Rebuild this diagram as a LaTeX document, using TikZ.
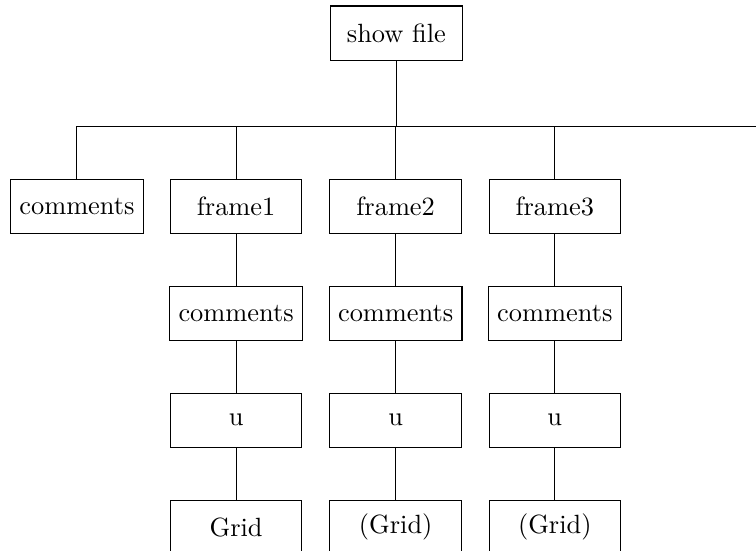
\documentclass[tikz,border=0pt]{standalone}
\usetikzlibrary{positioning}
\tikzset{
  item/.style={
    draw, minimum width=1.75cm, minimum height=0.72cm, align=center
  },
  link/.style={draw=black, line width=0.4pt}
}
\begin{document}
\begin{tikzpicture}[node distance=0.69cm]
    \useasboundingbox (0,0) rectangle (10.07,-7.33);
    \clip (0,0) rectangle (10.07,-7.33);
    % root and the bar
    \node[item] (show) at (5.28,-0.44) {show file};
    \coordinate (bar) at (5.28,-1.69);
    \coordinate (barend) at (10.3,-1.69);
    % first level
    \node[item] (comments) at (1.025,-2.75) {comments};
    \node[item] (frame1) at (3.145,-2.75) {frame1};
    \node[item] (frame2) at (5.27,-2.75) {frame2};
    \node[item] (frame3) at (7.39,-2.75) {frame3};
    % under each frame
    \node[item,below=of frame1] (com1) {comments};
    \node[item,below=of com1] (u1) {u};
    \node[item,below=of u1] (grid1) {Grid};
    \node[item,below=of frame2] (com2) {comments};
    \node[item,below=of com2] (u2) {u};
    \node[item,below=of u2] (grid2) {(Grid)};
    \node[item,below=of frame3] (com3) {comments};
    \node[item,below=of com3] (u3) {u};
    \node[item,below=of u3] (grid3) {(Grid)};
    \draw[link] (show)--(bar)--(barend);
    \draw[link] (comments)|-(bar);
    \draw[link] (frame1)|-(bar);
    \draw[link] (frame2)|-(bar);
    \draw[link] (frame3)|-(bar);
    \draw[link] (frame1)--(com1)--(u1)--(grid1);
    \draw[link] (frame2)--(com2)--(u2)--(grid2);
    \draw[link] (frame3)--(com3)--(u3)--(grid3);
  \end{tikzpicture}
\end{document}
